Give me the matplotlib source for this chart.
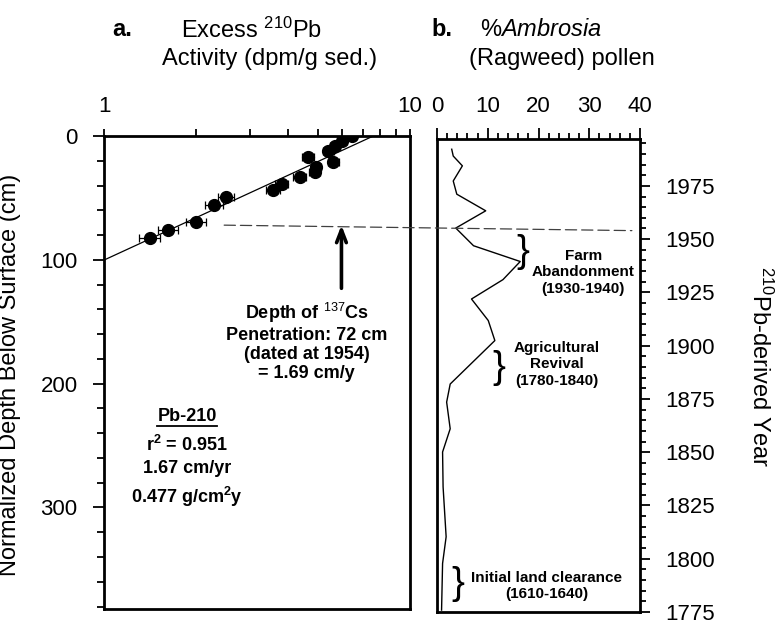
import numpy as np
import matplotlib
matplotlib.use("Agg")
import matplotlib.pyplot as plt
from matplotlib.patches import ConnectionPatch
from matplotlib.lines import Line2D
from matplotlib.ticker import FixedLocator, FixedFormatter, NullFormatter, MultipleLocator

plt.rcParams.update({
    "font.family": "Liberation Sans",
    "mathtext.fontset": "custom",
    "mathtext.rm": "Liberation Sans",
    "mathtext.bf": "Liberation Sans:bold",
    "mathtext.it": "Liberation Sans:italic",
    "axes.linewidth": 2.0,
})

# --- panel a: excess 210Pb activity vs depth --------------------------------
pb_activity = [1.41, 1.62, 2.00, 2.29, 2.50, 3.57, 3.81, 4.36, 4.89, 4.93,
               4.65, 5.62, 5.41, 5.69, 6.01, 6.45]
pb_depth = [82.7, 76.2, 69.5, 55.8, 49.3, 43.4, 38.8, 33.4, 29.3, 25.1,
            16.7, 20.8, 11.9, 8.1, 3.8, 0.0]
pb_err = [0.11, 0.12, 0.15, 0.15, 0.15, 0.18, 0.18, 0.2, 0.2, 0.2,
          0.22, 0.22, 0.22, 0.22, 0.22, 0.22]

# least-squares line through the profile
fit_activity = [1.0, 7.59]
fit_depth = [100.2, 0.0]

CS_DEPTH = 72      # cm, 137Cs penetration
CS_YEAR = 1954

# --- panel b: Ambrosia pollen vs 210Pb year ---------------------------------
pollen_pct = [2.9, 3.2, 5.0, 3.2, 3.9, 9.6, 3.7, 7.2, 16.4, 13.0, 6.8, 10.1,
              11.4, 2.6, 1.9, 2.6, 1.1, 1.2, 1.8, 1.1, 0.9]
pollen_year = [1992.2, 1989.0, 1984.4, 1977.3, 1971.1, 1963.3, 1955.2, 1946.9,
               1939.5, 1931.0, 1921.9, 1911.8, 1902.4, 1882.0, 1873.5, 1861.0,
               1850.1, 1833.7, 1810.3, 1797.8, 1775.9]

year_ticks = [1775, 1800, 1825, 1850, 1875, 1900, 1925, 1950, 1975]
pct_ticks = [0, 10, 20, 30, 40]
depth_ticks = [0, 100, 200, 300]

W, H = 779, 623
fig = plt.figure(figsize=(W / 100, H / 100), dpi=100)


def px_axes(x0, y0, x1, y1):
    return fig.add_axes([x0 / W, 1 - y1 / H, (x1 - x0) / W, (y1 - y0) / H])


ax1 = px_axes(104, 136, 410, 609)
ax2 = px_axes(437, 139, 640, 612)

# ---- panel a
ax1.errorbar(pb_activity, pb_depth, xerr=pb_err, fmt="o", color="black",
             ms=8.5, elinewidth=0.9, capsize=3, capthick=0.9, zorder=3)
ax1.plot(fit_activity, fit_depth, color="black", lw=0.9, zorder=2)
ax1.set_xscale("log")
ax1.set_xlim(1, 10)
ax1.set_ylim(382, 0)
ax1.xaxis.tick_top()
ax1.xaxis.set_major_locator(FixedLocator([1, 10]))
ax1.xaxis.set_major_formatter(FixedFormatter(["1", "10"]))
ax1.xaxis.set_minor_locator(FixedLocator(np.arange(2, 10)))
ax1.xaxis.set_minor_formatter(NullFormatter())
ax1.tick_params(axis="x", which="both", direction="out", length=5, width=1.3,
                labelsize=16, pad=9)
ax1.yaxis.set_major_locator(FixedLocator(depth_ticks))
ax1.yaxis.set_minor_locator(MultipleLocator(20))
ax1.tick_params(axis="y", which="major", direction="out", length=8, width=1.3,
                labelsize=16, pad=11)
ax1.tick_params(axis="y", which="minor", direction="out", length=5, width=1.3)
ax1.set_ylabel("Normalized Depth Below Surface (cm)", fontsize=17)
ax1.yaxis.set_label_coords(-0.27, 0.494)

cs_x = 5.97
ax1.annotate("", xy=(cs_x, CS_DEPTH), xytext=(cs_x, 123),
             arrowprops=dict(arrowstyle="->,head_length=0.9,head_width=0.35",
                             lw=2.6, color="black", shrinkA=0, shrinkB=0))
ax1.text(4.6, 166, "Depth of $^{137}$Cs\nPenetration: 72 cm\n(dated at 1954)\n= 1.69 cm/y",
         ha="center", va="center", fontsize=13, fontweight="bold", linespacing=1.15)

stats = [("Pb-210", 226.4),
         (r"r$^{\mathbf{2}}$ = 0.951", 249.8),
         ("1.67 cm/yr", 268.4),
         (r"0.477 g/cm$^{\mathbf{2}}$y", 291.8)]
stat_texts = [ax1.text(1.87, d, s, ha="center", va="center", fontsize=13,
                       fontweight="bold") for s, d in stats]

# ---- panel b
ax2.plot(pollen_pct, pollen_year, color="black", lw=1.0)
ax2.set_xlim(0, 40)
ax2.set_ylim(1775, 1997)
ax2.xaxis.tick_top()
ax2.xaxis.set_major_locator(FixedLocator(pct_ticks))
ax2.xaxis.set_minor_locator(MultipleLocator(2))
ax2.tick_params(axis="x", which="major", direction="out", length=8, width=1.3,
                labelsize=16, pad=8)
ax2.tick_params(axis="x", which="minor", direction="out", length=4, width=1.3)
ax2.yaxis.tick_right()
ax2.yaxis.set_major_locator(FixedLocator(year_ticks))
ax2.yaxis.set_minor_locator(MultipleLocator(5))
ax2.tick_params(axis="y", which="major", direction="out", length=7, width=1.3,
                labelsize=16, pad=11)
ax2.tick_params(axis="y", which="minor", direction="out", length=4.5, width=1.3)
ax2.yaxis.set_label_position("right")
ax2.set_ylabel("$^{210}$Pb-derived Year", fontsize=17, rotation=270, va="center")
ax2.yaxis.set_label_coords(1.59, 0.519)

brace_kw = dict(ha="center", va="center", fontsize=28)
note_kw = dict(ha="center", va="center", fontsize=11, fontweight="bold",
               linespacing=1.2)
ax2.text(17.0, 1944.0, "}", **brace_kw)
ax2.text(28.8, 1934.4, "Farm\nAbandonment\n(1930-1940)", **note_kw)
ax2.text(12.2, 1889.7, "}", **brace_kw)
ax2.text(23.6, 1891.2, "Agricultural\nRevival\n(1780-1840)", **note_kw)
ax2.text(4.1, 1788.1, "}", **brace_kw)
ax2.text(21.6, 1787.2, "Initial land clearance\n(1610-1640)", **note_kw)

# 137Cs horizon carried across both panels
con = ConnectionPatch(xyA=(2.47, CS_DEPTH), coordsA=ax1.transData,
                      xyB=(38.4, CS_YEAR), coordsB=ax2.transData,
                      color="0.25", lw=0.9, linestyle=(0, (9, 4)), zorder=5)
fig.add_artist(con)

# headers
fig.text(122 / W, 1 - 30 / H, "a.", fontsize=17, fontweight="bold",
         ha="center", va="center")
fig.text(252 / W, 1 - 30 / H, "Excess $^{210}$Pb", fontsize=17,
         ha="center", va="center")
fig.text(270 / W, 1 - 59 / H, "Activity (dpm/g sed.)", fontsize=17,
         ha="center", va="center")
fig.text(442 / W, 1 - 30 / H, "b.", fontsize=17, fontweight="bold",
         ha="center", va="center")
fig.text(541 / W, 1 - 30 / H, "%$\\mathit{Ambrosia}$", fontsize=17,
         ha="center", va="center")
fig.text(562 / W, 1 - 59 / H, "(Ragweed) pollen", fontsize=17,
         ha="center", va="center")

# underline the Pb-210 heading
fig.canvas.draw()
bb = stat_texts[0].get_window_extent()
inv = fig.transFigure.inverted()
(ux0, uy), (ux1, _) = inv.transform([(bb.x0, bb.y0 - 1), (bb.x1, bb.y0 - 1)])
fig.add_artist(Line2D([ux0, ux1], [uy, uy], transform=fig.transFigure,
                      color="black", lw=1.3))

fig.savefig("out.png", dpi=100)
